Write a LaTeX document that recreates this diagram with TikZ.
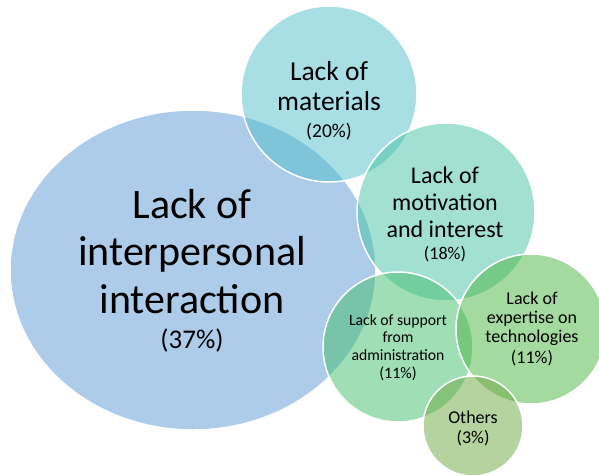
\documentclass[tikz,border=0pt]{standalone}
\usepackage{fontspec}
\setmainfont{Carlito}
\usetikzlibrary{shapes.geometric}
\definecolor{cBlue}{RGB}{91,155,213}
\definecolor{cAqua}{RGB}{82,192,204}
\definecolor{cTeal}{RGB}{71,195,165}
\definecolor{cMint}{RGB}{67,190,108}
\definecolor{cGreen}{RGB}{75,181,65}
\definecolor{cOlive}{RGB}{109,169,65}
\newcommand\bubtxt[5]{\parbox{200pt}{\centering\fontsize{#1}{#2}\selectfont #3\par\fontsize{#4}{#5}\selectfont}}
\begin{document}
\begin{tikzpicture}[x=1pt,y=-1pt,
  bub/.style={draw=white, line width=1.5pt, fill opacity=0.5, draw opacity=1, inner sep=0pt},
  lbl/.style={inner sep=0pt, text=black}]
\useasboundingbox[fill=white] (0,0) rectangle (599,475);
\node[bub, ellipse, fill=cBlue, minimum width=366pt, minimum height=320pt] (inter) at (193,270) {};
\node[bub, circle, fill=cAqua, minimum size=176pt] (mat) at (329,94) {};
\node[bub, circle, fill=cTeal, minimum size=178pt] (mot) at (446,212) {};
\node[bub, circle, fill=cMint, minimum size=150pt] (sup) at (398,347) {};
\node[bub, circle, fill=cGreen, minimum size=150pt] (exp) at (531,329) {};
\node[bub, circle, fill=cOlive, minimum size=100pt] (oth) at (473,426) {};
\node[lbl] (inter-t) at (192,270.5) {\parbox{250pt}{\centering\fontsize{42}{47.5}\selectfont Lack of\\interpersonal\\interaction\par\fontsize{27}{35}\selectfont (37\%)\par}};
\node[lbl] (mat-t) at (329,100.5) {\parbox{200pt}{\centering\fontsize{27.5}{30}\selectfont Lack of\\materials\par\fontsize{19.5}{27}\selectfont (20\%)\par}};
\node[lbl] (mot-t) at (445,214) {\parbox{200pt}{\centering\fontsize{24}{27}\selectfont Lack of\\motivation\\and interest\par\fontsize{18}{22}\selectfont (18\%)\par}};
\node[lbl] (sup-t) at (398,347.4) {\parbox{200pt}{\centering\fontsize{15.7}{17.5}\selectfont Lack of support\\from\\administration\par\fontsize{16}{18}\selectfont (11\%)\par}};
\node[lbl] (exp-t) at (532,328.7) {\parbox{200pt}{\centering\fontsize{18}{19}\selectfont Lack of\\expertise on\\technologies\par\fontsize{18}{21}\selectfont (11\%)\par}};
\node[lbl] (oth-t) at (473,428.2) {\parbox{200pt}{\centering\fontsize{18}{20}\selectfont Others\\(3\%)\par}};
\end{tikzpicture}
\end{document}
